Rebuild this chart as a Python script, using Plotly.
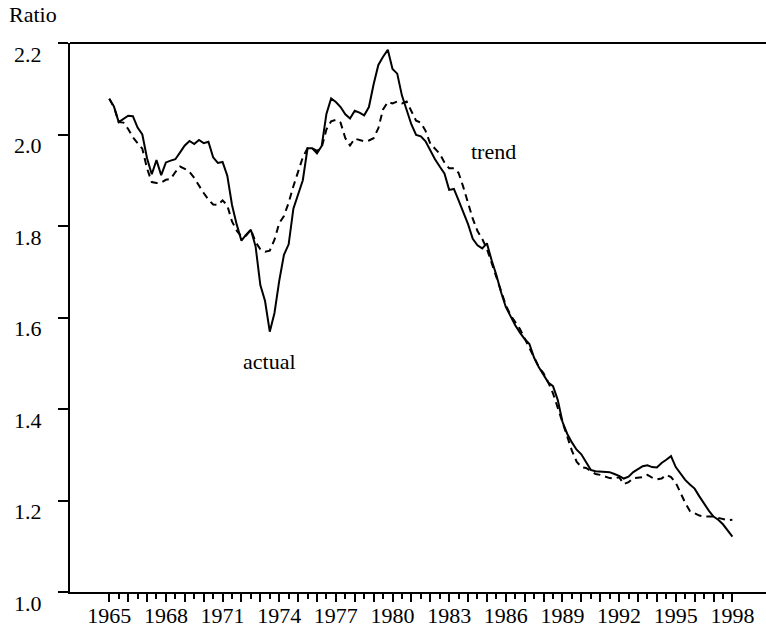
import plotly.graph_objects as go

# Quarterly observations, 1965Q1 - 1998Q1
start_year = 1965
actual = [
    2.078, 2.061, 2.027, 2.035, 2.041, 2.040, 2.015, 2.000, 1.948, 1.913,
    1.944, 1.911, 1.939, 1.943, 1.946, 1.961, 1.976, 1.986, 1.979, 1.988,
    1.981, 1.984, 1.950, 1.938, 1.940, 1.910, 1.846, 1.803, 1.768, 1.781,
    1.792, 1.755, 1.671, 1.636, 1.569, 1.610, 1.680, 1.737, 1.760, 1.838,
    1.868, 1.900, 1.970, 1.970, 1.959, 1.975, 2.045, 2.079, 2.071, 2.060,
    2.044, 2.035, 2.052, 2.048, 2.042, 2.060, 2.110, 2.152, 2.170, 2.185,
    2.143, 2.133, 2.085, 2.055, 2.022, 1.999, 1.996, 1.985, 1.965, 1.946,
    1.930, 1.915, 1.879, 1.881, 1.856, 1.832, 1.804, 1.772, 1.758, 1.751,
    1.762, 1.725, 1.693, 1.655, 1.623, 1.603, 1.583, 1.567, 1.553, 1.542,
    1.512, 1.491, 1.473, 1.458, 1.450, 1.420, 1.372, 1.346, 1.327, 1.311,
    1.301, 1.285, 1.267, 1.264, 1.263, 1.263, 1.262, 1.258, 1.254, 1.248,
    1.252, 1.262, 1.269, 1.275, 1.277, 1.273, 1.272, 1.282, 1.289, 1.297,
    1.273, 1.258, 1.245, 1.235, 1.226, 1.209, 1.193, 1.178, 1.165, 1.158,
    1.148, 1.135, 1.121,
]
trend = [
    2.078, 2.060, 2.027, 2.026, 2.012, 1.994, 1.981, 1.969, 1.926, 1.896,
    1.894, 1.895, 1.901, 1.903, 1.918, 1.930, 1.925, 1.918, 1.905, 1.887,
    1.872, 1.858, 1.847, 1.846, 1.856, 1.845, 1.810, 1.790, 1.777, 1.779,
    1.792, 1.765, 1.749, 1.744, 1.746, 1.770, 1.806, 1.822, 1.851, 1.887,
    1.917, 1.950, 1.970, 1.970, 1.964, 1.972, 2.011, 2.029, 2.032, 2.026,
    1.992, 1.976, 1.991, 1.988, 1.985, 1.987, 1.992, 2.014, 2.055, 2.071,
    2.068, 2.072, 2.068, 2.072, 2.052, 2.030, 2.026, 2.008, 1.980, 1.969,
    1.958, 1.939, 1.926, 1.926, 1.916, 1.885, 1.852, 1.816, 1.789, 1.772,
    1.750, 1.718, 1.687, 1.655, 1.627, 1.605, 1.590, 1.575, 1.554, 1.533,
    1.513, 1.492, 1.478, 1.458, 1.434, 1.402, 1.368, 1.336, 1.309, 1.285,
    1.273, 1.271, 1.264, 1.258, 1.256, 1.253, 1.249, 1.248, 1.251, 1.236,
    1.240, 1.249, 1.250, 1.251, 1.256, 1.250, 1.246, 1.248, 1.256, 1.251,
    1.239, 1.215, 1.195, 1.177, 1.172, 1.167, 1.165, 1.165, 1.165, 1.162,
    1.159, 1.157, 1.158,
]
# Year tick marks with half-year minor marks, labelled every third year
x_ticks = list(range(1965, 1999))
x_labels = [str(v) if (v - 1965) % 3 == 0 else "" for v in x_ticks]
x_half_ticks = [v + 0.5 for v in range(1965, 1998)]
y_ticks = [1.0, 1.2, 1.4, 1.6, 1.8, 2.0, 2.2]
y_labels = ["1.0", "1.2", "1.4", "1.6", "1.8", "2.0", "2.2"]

dates = [start_year + i / 4 for i in range(len(actual))]

FONT = "Liberation Serif, Times New Roman, serif"
FS = 22

fig = go.Figure()
fig.add_trace(go.Scatter(x=dates, y=trend, mode="lines",
                         line=dict(color="black", width=2, dash="7px,5px"),
                         name="trend"))
fig.add_trace(go.Scatter(x=dates, y=actual, mode="lines",
                         line=dict(color="black", width=2),
                         name="actual"))

annotations = []
for v, t in zip(y_ticks, y_labels):
    annotations.append(dict(x=0, xref="paper", y=v, yref="y", text=t,
                            showarrow=False, xanchor="right", yanchor="middle",
                            xshift=-26, yshift=-11,
                            font=dict(family=FONT, size=FS, color="black")))
annotations.append(dict(x=0, xref="paper", y=1, yref="paper", text="Ratio",
                        showarrow=False, xanchor="left", yanchor="middle",
                        xshift=-63, yshift=29,
                        font=dict(family=FONT, size=FS, color="black")))
annotations.append(dict(x=1973.5, y=1.503, text="actual", showarrow=False,
                        font=dict(family=FONT, size=FS, color="black")))
annotations.append(dict(x=1985.35, y=1.962, text="trend", showarrow=False,
                        font=dict(family=FONT, size=FS, color="black")))

# Frame line along the top of the plotting area
shapes = [dict(type="line", xref="paper", yref="paper", x0=0, x1=1, y0=1, y1=1,
               line=dict(color="black", width=2))]

fig.update_layout(
    width=766, height=633,
    margin=dict(l=70, r=0, t=43, b=41),
    paper_bgcolor="white", plot_bgcolor="white",
    showlegend=False,
    font=dict(family=FONT, size=FS, color="black"),
    annotations=annotations,
    shapes=shapes,
    xaxis=dict(
        range=[1962.92, 1999.78],
        showgrid=False, zeroline=False,
        showline=True, linecolor="black", linewidth=2,
        tickmode="array", tickvals=x_ticks, ticktext=x_labels,
        ticks="outside", ticklen=8, tickwidth=2, tickcolor="#000000",
        ticklabelstandoff=-5,
        tickfont=dict(family=FONT, size=FS, color="black"),
        minor=dict(ticks="outside", tickmode="array", tickvals=x_half_ticks,
                   ticklen=5, tickwidth=2, tickcolor="#000000",
                   showgrid=False),
    ),
    yaxis=dict(
        range=[1.0, 2.2],
        showgrid=False, zeroline=False,
        showline=True, linecolor="black", linewidth=2,
        tickmode="array", tickvals=y_ticks, ticktext=[""] * len(y_ticks),
        ticks="outside", ticklen=10, tickwidth=2, tickcolor="black",
    ),
)

fig.write_html("out.html")
